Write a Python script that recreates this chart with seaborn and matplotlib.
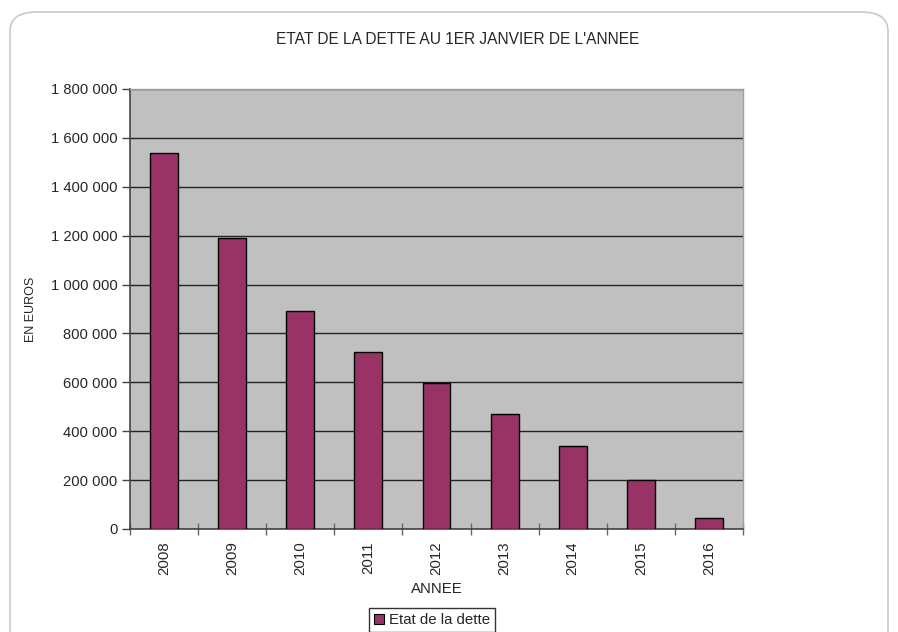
import matplotlib
matplotlib.use("Agg")
import matplotlib.pyplot as plt
import seaborn as sns
import pandas as pd
from matplotlib.ticker import FuncFormatter, FixedLocator
from matplotlib.patches import FancyBboxPatch, Patch

years = ["2008", "2009", "2010", "2011", "2012", "2013", "2014", "2015", "2016"]
dette = [1537000, 1192000, 893000, 724000, 596000, 472000, 341000, 199000, 46000]

df = pd.DataFrame({"ANNEE": years, "dette": dette})

sns.set_theme(style="white")
plt.rcParams["font.family"] = ["Liberation Sans", "DejaVu Sans"]

fig = plt.figure(figsize=(8.98, 6.32), dpi=100)
fig.patch.set_facecolor("white")

# rounded outer frame
frame = FancyBboxPatch((10 / 898, -0.05), 878 / 898, 1 - 12 / 632 + 0.05,
                       boxstyle="round,pad=0,rounding_size=0.03",
                       transform=fig.transFigure, facecolor="none",
                       edgecolor="#c8c8c8", linewidth=1.2, zorder=-10)
fig.patches.append(frame)

ax = fig.add_axes([130 / 898, 1 - 529 / 632, 613 / 898, 440 / 632])
ax.set_zorder(5)
ax.set_facecolor("#C0C0C0")

sns.barplot(data=df, x="ANNEE", y="dette", color="#993366", edgecolor="black",
            linewidth=1.0, width=0.41, saturation=1, ax=ax, zorder=3)

ax.set_ylim(0, 1800000)
ax.set_xlim(-0.5, len(years) - 0.5)
ax.yaxis.set_major_locator(FixedLocator(list(range(0, 1800001, 200000))))
ax.yaxis.set_major_formatter(FuncFormatter(lambda v, p: f"{int(v):,}".replace(",", " ")))
ax.grid(axis="y", color="#222222", linewidth=1.0, zorder=1)
ax.set_axisbelow(True)

ax.tick_params(axis="y", which="major", direction="out", length=6, width=1,
               color="#444444", labelsize=10.6, pad=3, left=True)
ax.tick_params(axis="x", which="major", length=0, labelsize=10.8, labelrotation=90, pad=9)
ax.set_xticks(range(len(years)))
ax.set_xticklabels(years)
ax.set_xticks([i + 0.5 for i in range(-1, len(years))], minor=True)
ax.tick_params(axis="x", which="minor", direction="inout", length=9, width=1,
               color="#666666", bottom=True)

for s in ["left", "bottom"]:
    ax.spines[s].set_color("#444444")
    ax.spines[s].set_linewidth(1.2)
for s in ["top", "right"]:
    ax.spines[s].set_color("#a0a0a0")
    ax.spines[s].set_linewidth(1.0)

ax.set_xlabel("ANNEE", fontsize=10.8, labelpad=5)
ax.set_ylabel("EN EUROS", fontsize=9, labelpad=10)
fig.text(458 / 898, 1 - 40 / 632, "ETAT DE LA DETTE AU 1ER JANVIER DE L'ANNEE",
         ha="center", va="center", fontsize=11.2)

handle = Patch(facecolor="#993366", edgecolor="black", linewidth=0.8)
leg = fig.legend([handle], ["Etat de la dette"], loc="center",
                 bbox_to_anchor=(432 / 898, 1 - 620 / 632), frameon=True,
                 fontsize=10.8, fancybox=False, handlelength=0.7, handleheight=0.7,
                 handletextpad=0.3, borderpad=0.35, borderaxespad=0)
leg.get_frame().set_edgecolor("black")
leg.get_frame().set_linewidth(1.0)

fig.savefig("out.png", dpi=100, facecolor="white")
